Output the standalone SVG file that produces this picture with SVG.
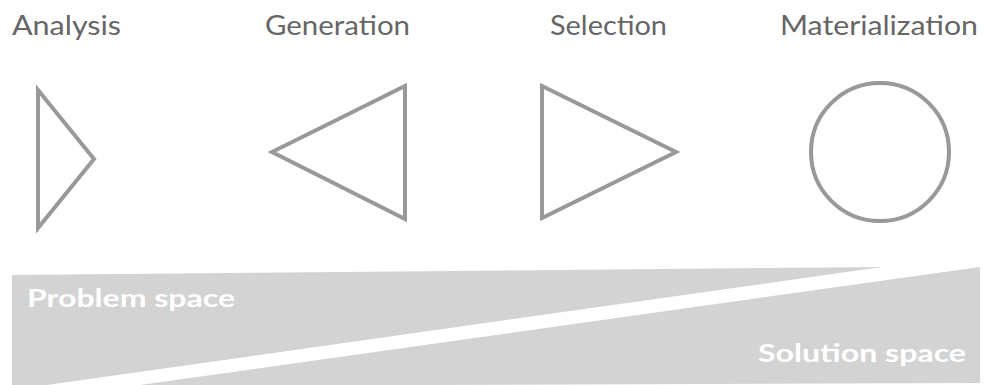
<svg xmlns="http://www.w3.org/2000/svg" width="985" height="385" viewBox="0 0 985 385">
<style>
.lbl{font-family:Lato,"Open Sans","Liberation Sans",sans-serif;font-size:26px;fill:#666666}
.shp{fill:none;stroke:#999999;stroke-width:4;stroke-linejoin:miter}
.band{fill:#d3d3d3}
.sp{font-family:Lato,"Open Sans","Liberation Sans",sans-serif;font-size:25px;font-weight:bold;fill:#ffffff}
</style>
<rect width="985" height="385" fill="#ffffff"/>
<g id="analysis">
<text class="lbl" x="12" y="35" textLength="109" lengthAdjust="spacingAndGlyphs">Analysis</text>
<polygon class="shp" points="38,90 94,159 38,228"/>
</g>
<g id="generation">
<text class="lbl" x="265" y="35" textLength="145" lengthAdjust="spacingAndGlyphs">Generation</text>
<polygon class="shp" points="272,152 405,86 405,219"/>
</g>
<g id="selection">
<text class="lbl" x="550" y="35" textLength="117" lengthAdjust="spacingAndGlyphs">Selection</text>
<polygon class="shp" points="542,86 676,152 542,218"/>
</g>
<g id="materialization">
<text class="lbl" x="780" y="35" textLength="198" lengthAdjust="spacingAndGlyphs">Materialization</text>
<circle class="shp" cx="880" cy="152" r="69"/>
</g>
<g id="problem-space">
<polygon class="band" points="12,275 882,267 47,385 12,385"/>
<text class="sp" x="27" y="307" textLength="208" lengthAdjust="spacingAndGlyphs">Problem space</text>
</g>
<g id="solution-space">
<polygon class="band" points="140,385 980,267 980,383 130,386"/>
<text class="sp" x="758" y="362" textLength="208" lengthAdjust="spacingAndGlyphs">Solution space</text>
</g>
<g id="connectors"></g>
</svg>
